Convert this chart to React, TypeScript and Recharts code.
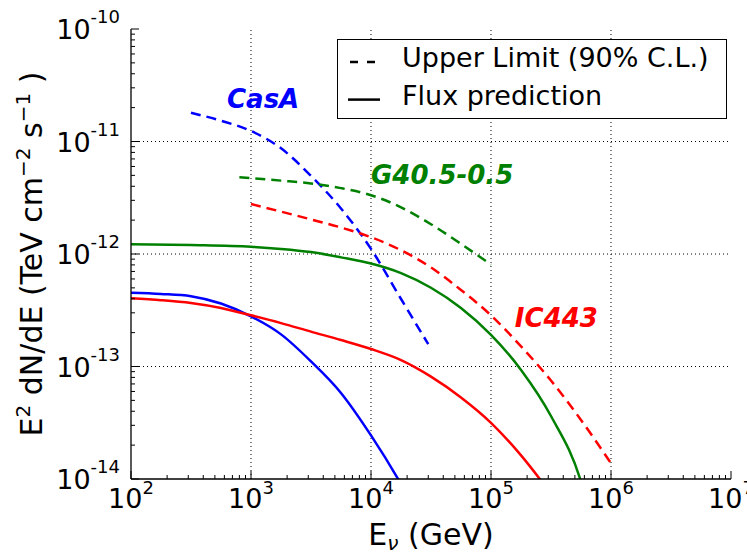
import React from "react";
import { LineChart, Line, XAxis, YAxis, ReferenceLine, ReferenceDot, Label, Legend } from "recharts";

// neutrino energy (GeV) and E^2 dN/dE (TeV cm^-2 s^-1)
const casaLimitE = [316, 562, 1000, 1780, 3160, 5620, 10000, 17800, 30000];
const casaLimitF = [1.8e-11, 1.53e-11, 1.24e-11, 8.7e-12, 4.95e-12, 2.54e-12, 1.11e-12, 3.98e-13, 1.58e-13];

const g40LimitE = [800, 1780, 3160, 5620, 10000, 17800, 31600, 56200, 100000];
const g40LimitF = [4.81e-12, 4.49e-12, 4.24e-12, 3.85e-12, 3.33e-12, 2.6e-12, 1.84e-12, 1.23e-12, 8.04e-13];

const ic443LimitE = [1000, 1780, 3160, 5620, 10000, 17800, 31600, 56200, 100000, 178000, 316000, 562000, 1000000];
const ic443LimitF = [2.78e-12, 2.38e-12, 2.03e-12, 1.72e-12, 1.41e-12, 1.08e-12, 7.59e-13, 4.79e-13, 2.85e-13, 1.51e-13, 7.5e-14, 3.35e-14, 1.38e-14];

const g40FluxE = [100, 316, 1000, 1780, 3160, 5620, 10000, 17800, 31600, 56200, 100000, 178000, 316000, 562000, 700000];
const g40FluxF = [1.22e-12, 1.2e-12, 1.16e-12, 1.11e-12, 1.04e-12, 9.33e-13, 8.22e-13, 6.76e-13, 5.01e-13, 3.31e-13, 1.91e-13, 9.33e-14, 3.63e-14, 9.5e-15, 4.0e-15];

const casaFluxE = [100, 178, 316, 562, 1000, 1780, 3160, 5620, 10000, 17800, 22000];
const casaFluxF = [4.53e-13, 4.42e-13, 4.22e-13, 3.63e-13, 2.79e-13, 1.93e-13, 1.11e-13, 5.82e-14, 2.44e-14, 9.0e-15, 6.0e-15];

const ic443FluxE = [100, 178, 316, 562, 1000, 1780, 3160, 5620, 10000, 17800, 31600, 56200, 100000, 178000, 316000];
const ic443FluxF = [4.04e-13, 3.89e-13, 3.67e-13, 3.31e-13, 2.85e-13, 2.43e-13, 2.04e-13, 1.72e-13, 1.43e-13, 1.14e-13, 8.13e-14, 5.31e-14, 3.16e-14, 1.62e-14, 7.4e-15];

const majorE = [1e2, 1e3, 1e4, 1e5, 1e6, 1e7];
const majorF = [1e-14, 1e-13, 1e-12, 1e-11, 1e-10];

const legendItems = [
  { label: "Upper Limit (90% C.L.)", dashed: true },
  { label: "Flux prediction", dashed: false },
];

const zip = (es: number[], fs: number[]) => es.map((e, i) => ({ e, f: fs[i] }));

const withMinors = (majors: number[]) => {
  const out: number[] = [];
  majors.forEach((m, i) => {
    out.push(m);
    if (i < majors.length - 1) for (let k = 2; k <= 9; k++) out.push(m * k);
  });
  return out;
};

const allE = withMinors(majorE);
const allF = withMinors(majorF);

const FONT = "DejaVu Sans";
const exp10 = (v: number) => Math.round(Math.log10(v));
const isMajor = (v: number) => Math.abs(Math.log10(v) - exp10(v)) < 1e-6;

const BottomTick = ({ x, y, payload }: any) => {
  const major = isMajor(payload.value);
  return (
    <g>
      <line x1={x} x2={x} y1={y} y2={y - (major ? 8 : 4)} stroke="#000" />
      {major && (
        <text x={x} y={y + 29} textAnchor="middle" fontSize={27} fontFamily={FONT} fill="#000">
          10<tspan dy={-14} fontSize={18}>{exp10(payload.value)}</tspan>
        </text>
      )}
    </g>
  );
};

const TopTick = ({ x, y, payload }: any) => {
  const major = isMajor(payload.value);
  return <line x1={x} x2={x} y1={y} y2={y + (major ? 8 : 4)} stroke="#000" />;
};

const LeftTick = ({ x, y, payload }: any) => {
  const major = isMajor(payload.value);
  return (
    <g>
      <line x1={x} x2={x + (major ? 8 : 4)} y1={y} y2={y} stroke="#000" />
      {major && (
        <text x={x - 11} y={y + 10} textAnchor="end" fontSize={27} fontFamily={FONT} fill="#000">
          10<tspan dy={-16} fontSize={18}>{String(exp10(payload.value))}</tspan>
        </text>
      )}
    </g>
  );
};

const RightTick = ({ x, y, payload }: any) => {
  const major = isMajor(payload.value);
  return <line x1={x} x2={x - (major ? 8 : 4)} y1={y} y2={y} stroke="#000" />;
};

const XTitle = ({ viewBox }: any) => (
  <text x={viewBox.x + viewBox.width / 2} y={viewBox.y + 66} textAnchor="middle" fontSize={30} fontFamily={FONT} fill="#000">
    E<tspan dy={5} fontSize={20} fontStyle="italic">ν</tspan>
    <tspan dy={-5}> (GeV)</tspan>
  </text>
);

const YTitle = ({ viewBox }: any) => {
  const cx = 42;
  const cy = viewBox.y + viewBox.height / 2;
  return (
    <text x={cx} y={cy} transform={`rotate(-90 ${cx} ${cy})`} textAnchor="middle" fontSize={30} fontFamily={FONT} fill="#000">
      E<tspan dy={-12} fontSize={20}>2</tspan>
      <tspan dy={12}> dN/dE (TeV cm</tspan>
      <tspan dy={-12} fontSize={20}>−2</tspan>
      <tspan dy={12}> s</tspan>
      <tspan dy={-12} fontSize={20}>−1</tspan>
      <tspan dy={12}> )</tspan>
    </text>
  );
};

const sourceLabel = (text: string, color: string) => ({ viewBox }: any) => (
  <text x={viewBox.x} y={viewBox.y} fontSize={26} fontWeight="bold" fontStyle="italic" fontFamily={FONT} fill={color}>
    {text}
  </text>
);

const LegendBox = () => (
  <svg width={391} height={80} style={{ display: "block" }}>
    <rect x={0.5} y={0.5} width={389} height={79} fill="#fff" stroke="#000" strokeWidth={1} />
    {legendItems.map((item, i) => (
      <g key={item.label}>
        <line
          x1={item.dashed ? 13 : 11}
          x2={item.dashed ? 38 : 43}
          y1={23 + i * 37.6}
          y2={23 + i * 37.6}
          stroke="#000"
          strokeWidth={2.5}
          strokeDasharray={item.dashed ? "8 9" : undefined}
        />
        <text x={65} y={28 + i * 37.6} fontSize={27} fontFamily={FONT} fill="#000">
          {item.label}
        </text>
      </g>
    ))}
  </svg>
);

const dash = "10 6";

export default function App() {
  return (
    <div style={{ position: "absolute", left: 0, top: 0, width: 747, height: 554, background: "#fff" }}>
      <LineChart width={747} height={554} margin={{ top: 29, right: 16, bottom: 0, left: 0 }}>
        <XAxis
          dataKey="e"
          type="number"
          scale="log"
          domain={[1e2, 1e7]}
          allowDataOverflow
          ticks={allE}
          interval={0}
          height={75}
          tickSize={0}
          tickMargin={0}
          tickLine={false}
          tick={<BottomTick />}
          axisLine={{ stroke: "#000", strokeWidth: 1.3 }}
        >
          <Label content={<XTitle />} />
        </XAxis>
        <XAxis
          xAxisId="top"
          orientation="top"
          dataKey="e"
          type="number"
          scale="log"
          domain={[1e2, 1e7]}
          allowDataOverflow
          ticks={allE}
          interval={0}
          height={0}
          tickSize={0}
          tickMargin={0}
          tickLine={false}
          tick={<TopTick />}
          axisLine={{ stroke: "#000", strokeWidth: 1.3 }}
        />
        <YAxis
          type="number"
          scale="log"
          domain={[1e-14, 1e-10]}
          allowDataOverflow
          ticks={allF}
          interval={0}
          width={131}
          tickSize={0}
          tickMargin={0}
          tickLine={false}
          tick={<LeftTick />}
          axisLine={{ stroke: "#000", strokeWidth: 1.3 }}
        >
          <Label content={<YTitle />} />
        </YAxis>
        <YAxis
          yAxisId="right"
          orientation="right"
          type="number"
          scale="log"
          domain={[1e-14, 1e-10]}
          allowDataOverflow
          ticks={allF}
          interval={0}
          width={0}
          tickSize={0}
          tickMargin={0}
          tickLine={false}
          tick={<RightTick />}
          axisLine={{ stroke: "#000", strokeWidth: 1.3 }}
        />
        {majorE.slice(1, -1).map((v) => (
          <ReferenceLine key={`gx${v}`} x={v} stroke="#000" strokeWidth={1} strokeDasharray="1 3" />
        ))}
        {majorF.slice(1, -1).map((v) => (
          <ReferenceLine key={`gy${v}`} y={v} stroke="#000" strokeWidth={1} strokeDasharray="1 3" />
        ))}
        <Line data={zip(casaLimitE, casaLimitF)} dataKey="f" type="monotone" stroke="#0000ff" strokeWidth={2.5} strokeDasharray={dash} dot={false} isAnimationActive={false} />
        <Line data={zip(g40LimitE, g40LimitF)} dataKey="f" type="monotone" stroke="#008000" strokeWidth={2.5} strokeDasharray={dash} dot={false} isAnimationActive={false} />
        <Line data={zip(ic443LimitE, ic443LimitF)} dataKey="f" type="monotone" stroke="#ff0000" strokeWidth={2.5} strokeDasharray={dash} dot={false} isAnimationActive={false} />
        <Line data={zip(g40FluxE, g40FluxF)} dataKey="f" type="monotone" stroke="#008000" strokeWidth={2.5} dot={false} isAnimationActive={false} />
        <Line data={zip(casaFluxE, casaFluxF)} dataKey="f" type="monotone" stroke="#0000ff" strokeWidth={2.5} dot={false} isAnimationActive={false} />
        <Line data={zip(ic443FluxE, ic443FluxF)} dataKey="f" type="monotone" stroke="#ff0000" strokeWidth={2.5} dot={false} isAnimationActive={false} />
        <ReferenceDot x={631} y={1.99e-11} r={0} stroke="none" label={{ content: sourceLabel("CasA", "#0000ff") }} />
        <ReferenceDot x={1e4} y={4.17e-12} r={0} stroke="none" label={{ content: sourceLabel("G40.5-0.5", "#008000") }} />
        <ReferenceDot x={1.58e5} y={2.26e-13} r={0} stroke="none" label={{ content: sourceLabel("IC443", "#ff0000") }} />
        <Legend
          layout="vertical"
          align="center"
          verticalAlign="middle"
          content={<LegendBox />}
          wrapperStyle={{ left: 337, top: 39, width: 391 }}
        />
      </LineChart>
    </div>
  );
}
